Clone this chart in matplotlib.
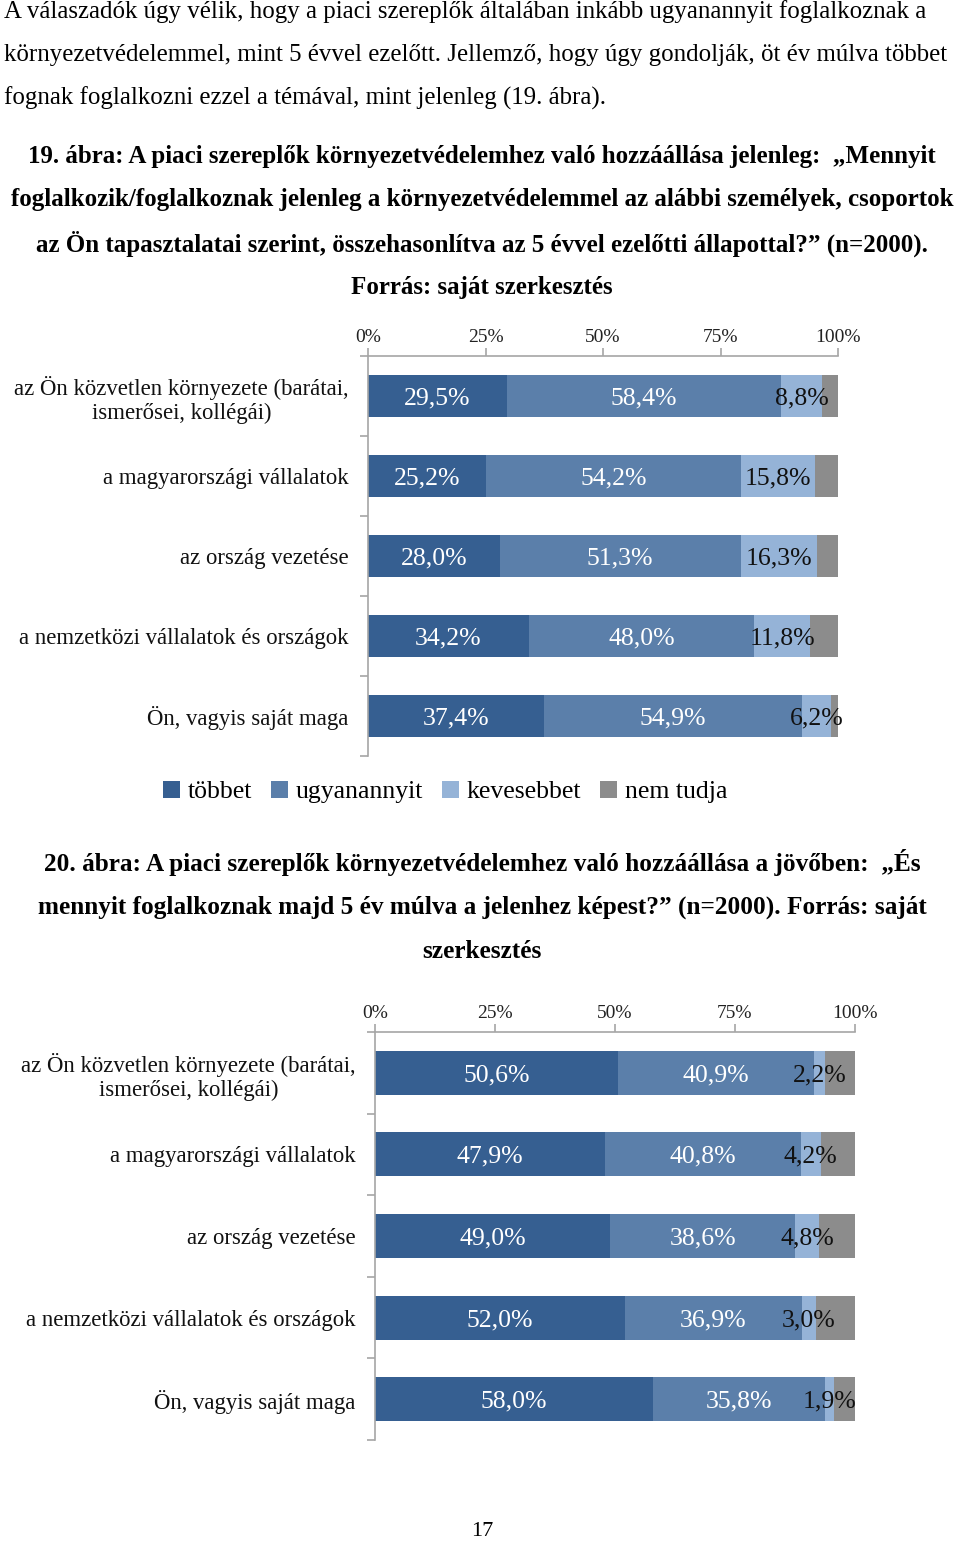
import matplotlib

matplotlib.use("Agg")
import matplotlib.pyplot as plt
from matplotlib.patches import Patch

W, H = 960, 1543
SERIF = ["Liberation Serif", "DejaVu Serif"]
plt.rcParams["font.family"] = SERIF

SERIES = ["többet", "ugyanannyit", "kevesebbet", "nem tudja"]
COLORS = ["#365f91", "#5b7faa", "#95b3d7", "#8c8c8c"]
LABEL_COLORS = ["white", "white", "#111111", None]

CATEGORIES = [
    "az Ön közvetlen környezete (barátai,\nismerősei, kollégái)",
    "a magyarországi vállalatok",
    "az ország vezetése",
    "a nemzetközi vállalatok és országok",
    "Ön, vagyis saját maga",
]

# 19. ábra: jelenleg, 5 évvel ezelőtthöz képest
NOW_TOBBET = [29.5, 25.2, 28.0, 34.2, 37.4]
NOW_UGYANANNYIT = [58.4, 54.2, 51.3, 48.0, 54.9]
NOW_KEVESEBBET = [8.8, 15.8, 16.3, 11.8, 6.2]
NOW_NEMTUDJA = [3.3, 4.8, 4.4, 6.0, 1.5]

# 20. ábra: 5 év múlva
FUT_TOBBET = [50.6, 47.9, 49.0, 52.0, 58.0]
FUT_UGYANANNYIT = [40.9, 40.8, 38.6, 36.9, 35.8]
FUT_KEVESEBBET = [2.2, 4.2, 4.8, 3.0, 1.9]
FUT_NEMTUDJA = [6.3, 7.1, 7.6, 8.1, 4.3]

TICKS = [0, 25, 50, 75, 100]
TICK_LABELS = ["0%", "25%", "50%", "75%", "100%"]


def px(x, y):
    return x / W, 1 - y / H


def rect(x0, y0, x1, y1):
    return [x0 / W, 1 - y1 / H, (x1 - x0) / W, (y1 - y0) / H]


def fmt(v):
    return f"{v:.1f}%".replace(".", ",")


def chart(ax, series, bar_h):
    ys = list(range(len(CATEGORIES)))
    left = [0] * len(ys)
    for vals, color, lcol in zip(series, COLORS, LABEL_COLORS):
        ax.barh(ys, vals, left=left, height=bar_h, color=color, lw=0)
        if lcol:
            for y, l, v in zip(ys, left, vals):
                ax.text(l + v / 2, y, fmt(v), ha="center", va="center_baseline",
                        color=lcol, fontsize=18.5)
        left = [a + b for a, b in zip(left, vals)]
    ax.set_xlim(0, 100)
    ax.set_ylim(len(ys) - 0.5, -0.5)
    ax.xaxis.tick_top()
    ax.set_xticks(TICKS)
    ax.set_xticklabels(TICK_LABELS)
    ax.set_yticks(ys)
    ax.set_yticklabels(CATEGORIES, multialignment="center")
    ax.set_yticks([y - 0.5 for y in ys] + [len(ys) - 0.5], minor=True)
    ax.tick_params(axis="y", which="major", length=0, pad=14, labelsize=16.4,
                   labelcolor="#111111")
    ax.tick_params(axis="y", which="minor", length=6, color="#a6a6a6", width=1.2)
    ax.tick_params(axis="x", length=6, color="#a6a6a6", width=1.2, pad=1,
                   labelsize=14, labelcolor="#222222")
    for side in ("right", "bottom"):
        ax.spines[side].set_visible(False)
    for side in ("top", "left"):
        ax.spines[side].set_color("#a6a6a6")
        ax.spines[side].set_linewidth(1.2)


fig = plt.figure(figsize=(W / 100, H / 100), dpi=100, facecolor="white")

body = [
    "A válaszadók úgy vélik, hogy a piaci szereplők általában inkább ugyanannyit foglalkoznak a",
    "környezetvédelemmel, mint 5 évvel ezelőtt. Jellemző, hogy úgy gondolják, öt év múlva többet",
    "fognak foglalkozni ezzel a témával, mint jelenleg (19. ábra).",
]
for i, line in enumerate(body):
    fig.text(*px(4, 12 + 43 * i), line, ha="left", va="center", fontsize=17.9)

cap1 = [
    "19. ábra: A piaci szereplők környezetvédelemhez való hozzáállása jelenleg:  „Mennyit",
    "foglalkozik/foglalkoznak jelenleg a környezetvédelemmel az alábbi személyek, csoportok",
    "az Ön tapasztalatai szerint, összehasonlítva az 5 évvel ezelőtti állapottal?” (n=2000).",
    "Forrás: saját szerkesztés",
]
for i, line in enumerate(cap1):
    fig.text(*px(482, 156 + 43.7 * i), line, ha="center", va="center",
             fontsize=18.0, fontweight="bold")

cap2 = [
    "20. ábra: A piaci szereplők környezetvédelemhez való hozzáállása a jövőben:  „És",
    "mennyit foglalkoznak majd 5 év múlva a jelenhez képest?” (n=2000). Forrás: saját",
    "szerkesztés",
]
for i, line in enumerate(cap2):
    fig.text(*px(482, 863 + 44 * i), line, ha="center", va="center",
             fontsize=18.2, fontweight="bold")

ax1 = fig.add_axes(rect(368, 356, 838, 756))
chart(ax1, [NOW_TOBBET, NOW_UGYANANNYIT, NOW_KEVESEBBET, NOW_NEMTUDJA], 0.53)

ax2 = fig.add_axes(rect(375, 1032, 855, 1440))
chart(ax2, [FUT_TOBBET, FUT_UGYANANNYIT, FUT_KEVESEBBET, FUT_NEMTUDJA], 0.54)

handles = [Patch(facecolor=c, edgecolor="none") for c in COLORS]
fig.legend(handles, SERIES, loc="center", bbox_to_anchor=px(445, 792), ncol=4,
           frameon=False, fontsize=18.5, handlelength=0.65, handleheight=0.65,
           handletextpad=0.3, columnspacing=0.75)

fig.text(*px(482, 1532), "17", ha="center", va="center", fontsize=16)

fig.savefig("out.png", dpi=100, facecolor="white")
